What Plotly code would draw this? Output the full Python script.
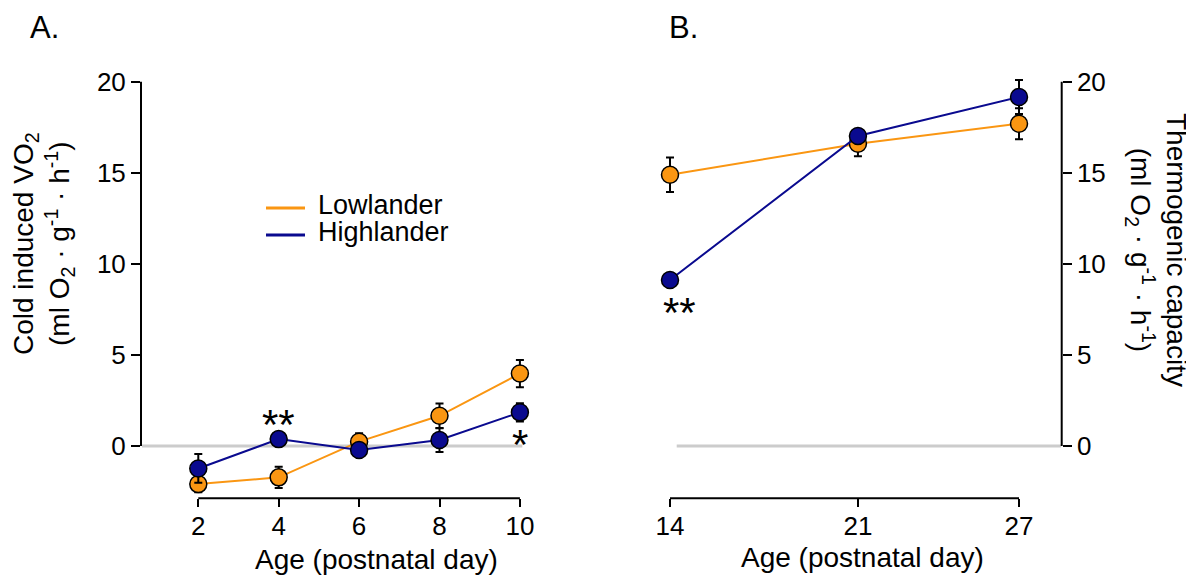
import plotly.graph_objects as go

# ---- data ----
age_a = [2, 4, 6, 8, 10]
low_a = [-2.09, -1.72, 0.24, 1.66, 3.98]
low_a_err = [0.45, 0.58, 0.46, 0.68, 0.75]
high_a = [-1.23, 0.38, -0.22, 0.33, 1.85]
high_a_err = [0.79, 0.2, 0.3, 0.66, 0.5]

age_b = [14, 21, 27]
low_b = [14.9, 16.6, 17.7]
low_b_err = [0.95, 0.68, 0.85]
high_b = [9.12, 17.03, 19.17]
high_b_err = [0.3, 0.35, 0.93]

xticks_a = [2, 4, 6, 8, 10]
xticks_b = [14, 21, 27]
yticks = [0, 5, 10, 15, 20]
series_names = ["Lowlander", "Highlander"]

ORANGE = "#FA9612"
BLUE = "#0A0A8F"
FONT = "Liberation Sans, Arial, sans-serif"

# page has an 8px body margin; compensate so marks land where the reference has them
OFF = 8
W, H = 1194 - OFF, 577 - OFF
def px(x): return (x - OFF) / W
def py(y): return 1 - (y - OFF) / H

fig = go.Figure()

def add_series(x, y, err, color, xa, ya, name):
    fig.add_trace(go.Scatter(
        x=x, y=y, mode="lines+markers", xaxis=xa, yaxis=ya, showlegend=False, name=name,
        line=dict(color=color, width=2),
        marker=dict(size=17, color=color, line=dict(color="black", width=1.5)),
        error_y=dict(type="data", array=err, color="black", thickness=2, width=4),
    ))

add_series(age_a, low_a, low_a_err, ORANGE, "x", "y", series_names[0])
add_series(age_a, high_a, high_a_err, BLUE, "x", "y", series_names[1])
add_series(age_b, low_b, low_b_err, ORANGE, "x2", "y2", series_names[0])
add_series(age_b, high_b, high_b_err, BLUE, "x2", "y2", series_names[1])

ydom = [py(498.3), py(60)]
yrange = [-2.87, 21.2]
tickfont = dict(family=FONT, size=26, color="black")
common_x = dict(showline=False, showgrid=False, zeroline=False, ticks="outside",
                ticklen=8, tickwidth=2, tickcolor="black", tickfont=tickfont,
                ticklabelstandoff=-4)
common_y = dict(showline=False, showgrid=False, zeroline=False, ticks="outside",
                ticklen=9, tickwidth=2, tickcolor="black", tickfont=tickfont,
                range=yrange, domain=ydom, tickvals=yticks)

fig.update_layout(
    width=W, height=H, margin=dict(l=0, r=0, t=0, b=0),
    paper_bgcolor="white", plot_bgcolor="white",
    font=dict(family=FONT, size=28, color="black"),
    showlegend=False,
    xaxis=dict(common_x, domain=[px(141), px(540)], range=[0.575, 10.5],
               tickvals=xticks_a, anchor="y"),
    yaxis=dict(common_y, anchor="x"),
    xaxis2=dict(common_x, domain=[px(650), px(1061.7)], range=[13.255, 28.59],
                tickvals=xticks_b, anchor="y2"),
    yaxis2=dict(common_y, anchor="x2", side="right"),
)

shapes = []
# gray zero lines
shapes.append(dict(type="line", xref="x", yref="y", x0=0.6, x1=10.06, y0=0, y1=0,
                   line=dict(color="#cccccc", width=3), layer="below"))
shapes.append(dict(type="line", xref="x2", yref="y2", x0=14.25, x1=28.57, y0=0, y1=0,
                   line=dict(color="#cccccc", width=3), layer="below"))
# axis spines (offset style)
shapes.append(dict(type="line", xref="x", yref="paper", x0=2, x1=10, y0=ydom[0], y1=ydom[0],
                   line=dict(color="black", width=2)))
shapes.append(dict(type="line", xref="paper", yref="y", x0=px(141), x1=px(141), y0=0, y1=20,
                   line=dict(color="black", width=2)))
shapes.append(dict(type="line", xref="x2", yref="paper", x0=14, x1=27, y0=ydom[0], y1=ydom[0],
                   line=dict(color="black", width=2)))
shapes.append(dict(type="line", xref="paper", yref="y2", x0=px(1061.7), x1=px(1061.7), y0=0, y1=20,
                   line=dict(color="black", width=2)))
# legend keys
legend_y = [207, 234]
for col, yy in zip([ORANGE, BLUE], legend_y):
    shapes.append(dict(type="line", xref="paper", yref="paper", x0=px(266), x1=px(305),
                       y0=py(yy + 1), y1=py(yy + 1), line=dict(color=col, width=3)))
fig.update_layout(shapes=shapes)

ann = []
# legend labels
for name, yy in zip(series_names, legend_y):
    ann.append(dict(text=name, xref="paper", yref="paper", x=px(316), y=py(yy - 2),
                    showarrow=False, font=dict(size=27), xanchor="left", yanchor="middle"))
# panel labels
ann.append(dict(text="A.", xref="paper", yref="paper", x=px(44), y=1.0, showarrow=False,
                font=dict(size=31), xanchor="center", yanchor="top"))
ann.append(dict(text="B.", xref="paper", yref="paper", x=px(683), y=1.0, showarrow=False,
                font=dict(size=31), xanchor="center", yanchor="top"))
# axis titles
ann.append(dict(text="Age (postnatal day)", xref="paper", yref="paper", x=px(376), y=py(559),
                showarrow=False, font=dict(size=28), xanchor="center", yanchor="middle"))
ann.append(dict(text="Age (postnatal day)", xref="paper", yref="paper", x=px(862), y=py(557),
                showarrow=False, font=dict(size=28), xanchor="center", yanchor="middle"))
ann.append(dict(text="Cold induced VO<sub>2</sub><br>(ml O<sub>2</sub> · g<sup>-1</sup> · h<sup>-1</sup>)",
                xref="paper", yref="paper", x=px(43), y=py(244), textangle=-90,
                showarrow=False, font=dict(size=28), xanchor="center", yanchor="middle"))
ann.append(dict(text="Thermogenic capacity<br>(ml O<sub>2</sub> · g<sup>-1</sup> · h<sup>-1</sup>)",
                xref="paper", yref="paper", x=px(1157), y=py(250), textangle=90,
                showarrow=False, font=dict(size=28), xanchor="center", yanchor="middle"))
# significance marks
ann.append(dict(text="**", xref="x", yref="y", x=4, y=1.2, showarrow=False,
                font=dict(size=42), xanchor="center", yanchor="middle"))
ann.append(dict(text="*", xref="x", yref="y", x=10, y=0.1, showarrow=False,
                font=dict(size=42), xanchor="center", yanchor="middle"))
ann.append(dict(text="**", xref="x2", yref="y2", x=14.37, y=7.35, showarrow=False,
                font=dict(size=42), xanchor="center", yanchor="middle"))
fig.update_layout(annotations=ann)

fig.write_html("out.html")
